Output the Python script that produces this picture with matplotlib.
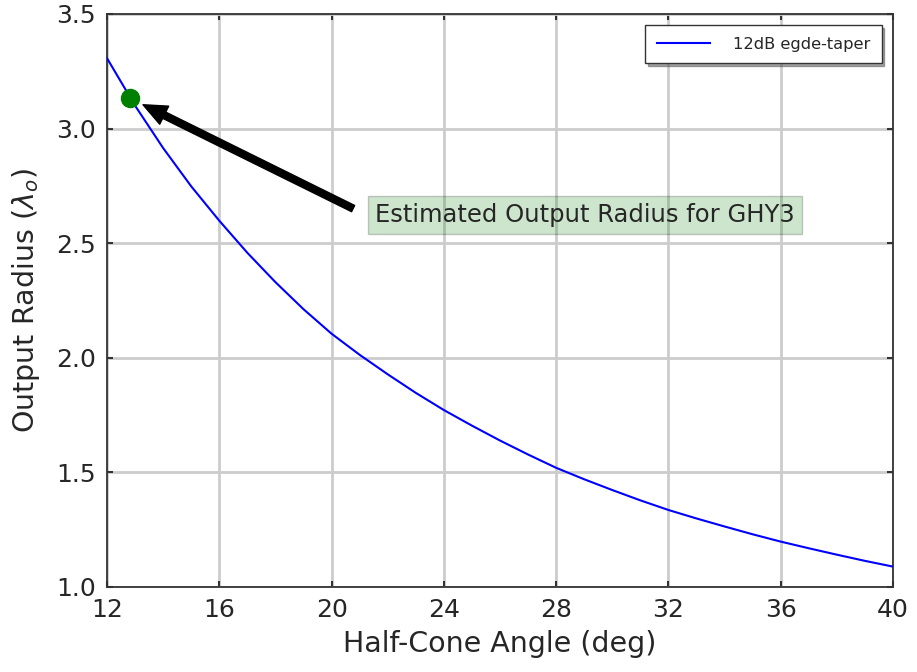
import numpy as np
import matplotlib
matplotlib.use("Agg")
import matplotlib.pyplot as plt

# values
angle = [12, 13, 14, 15, 16, 17, 18, 19, 20, 21, 22, 23, 24, 25, 26, 27, 28,
         29, 30, 31, 32, 33, 34, 35, 36, 37, 38, 39, 40]
radius = [3.307, 3.10, 2.915, 2.748, 2.598, 2.458, 2.330, 2.212, 2.105, 2.013, 1.928,
          1.847, 1.772, 1.704, 1.639, 1.578, 1.520, 1.470, 1.423, 1.378, 1.336,
          1.299, 1.264, 1.230, 1.198, 1.169, 1.141, 1.114, 1.089]

ghy3_angle = 12.82
ghy3_radius = 3.132
label_pos = (21.23, 2.623)

x_ticks = [12, 16, 20, 24, 28, 32, 36, 40]
y_ticks = [1.0, 1.5, 2.0, 2.5, 3.0, 3.5]

txt = '#262626'

fig = plt.figure(figsize=(9.17, 6.72), dpi=100)
ax = fig.add_axes([0.1167, 0.1265, 0.9738 - 0.1167, 0.9792 - 0.1265])

ax.plot(angle, radius, color='blue', lw=1.5, label='12dB egde-taper', zorder=3)
ax.plot(ghy3_angle, ghy3_radius, 'o', color='green', ms=13, zorder=4)

ax.annotate('', xy=(ghy3_angle, ghy3_radius), xytext=label_pos,
            arrowprops=dict(facecolor='black', edgecolor='black', width=5,
                            headwidth=14.5, headlength=17, shrink=0.055), zorder=5)
ax.text(label_pos[0] + 0.32, label_pos[1], 'Estimated Output Radius for GHY3',
        fontsize=17.5, color=txt, va='center', ha='left',
        bbox=dict(boxstyle='square,pad=0.3', fc='green', ec='black', alpha=0.2), zorder=2)

ax.set_xlim(12, 40)
ax.set_ylim(1.0, 3.5)
ax.set_xticks(x_ticks)
ax.set_yticks(y_ticks)
ax.set_yticklabels(['%.1f' % v for v in y_ticks])

ax.grid(True, color='#cccccc', lw=2, zorder=0)
ax.set_axisbelow(True)
for s in ax.spines.values():
    s.set_color('#333333')
    s.set_linewidth(1.3)
ax.tick_params(direction='in', length=4, width=1.5, color='#333333',
               top=True, right=True, labelsize=18, labelcolor=txt, pad=8)

ax.set_xlabel('Half-Cone Angle (deg)', fontsize=20.5, color=txt, labelpad=6)
ax.set_ylabel(r'Output Radius ($\lambda_o$)', fontsize=20.5, color=txt, labelpad=10)

leg = ax.legend(loc='upper right', fontsize=11.7, fancybox=False, shadow=True,
                handlelength=3.3, handletextpad=1.4, borderaxespad=0.7,
                borderpad=0.7, edgecolor='#333333')
for t in leg.get_texts():
    t.set_color(txt)
leg.get_frame().set_linewidth(1.0)

fig.savefig('out.png', dpi=100)
